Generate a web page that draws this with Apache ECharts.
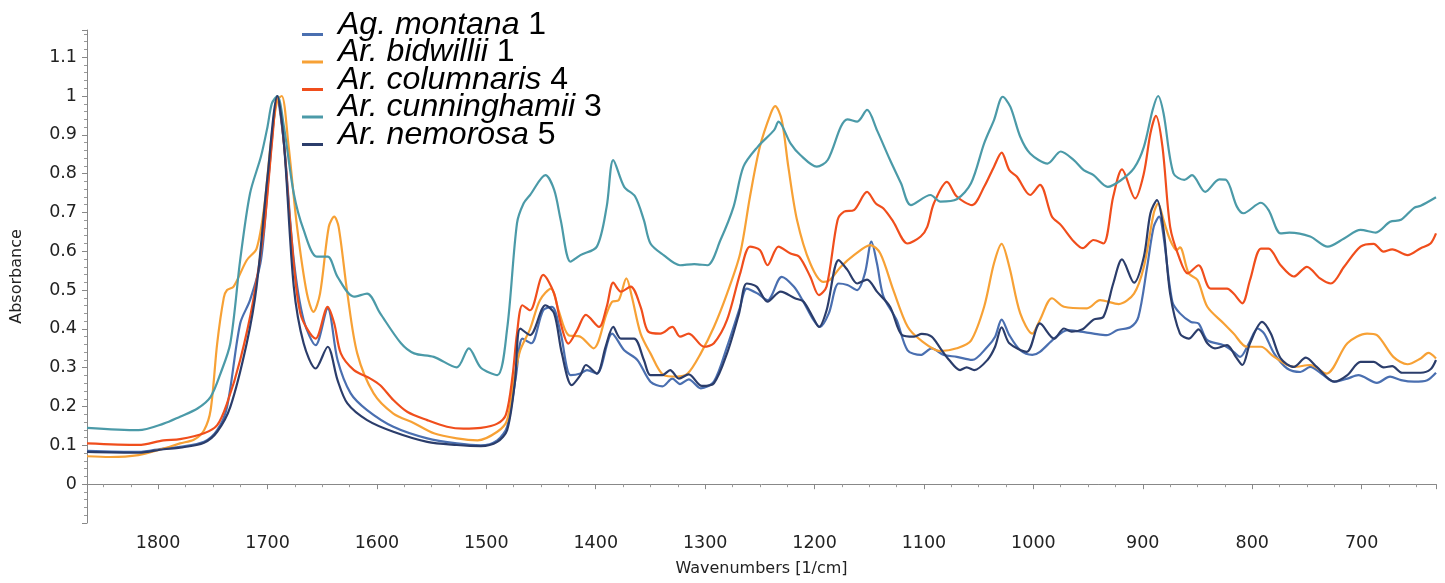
<!DOCTYPE html>
<html>
<head>
<meta charset="utf-8">
<script src="https://cdn.jsdelivr.net/npm/echarts@6.0.0/dist/echarts.min.js"></script>
<style>
  html, body { margin: 0; padding: 0; background: #fff; }
  #main { width: 1445px; height: 583px; }
</style>
</head>
<body>
<div id="main"></div>
<script>
// series names (legend order)
const seriesNames = ['Ag. montana 1', 'Ar. bidwillii 1', 'Ar. columnaris 4', 'Ar. cunninghamii 3', 'Ar. nemorosa 5'];
const seriesColors = ['#4a6fb0', '#f7a135', '#f04e1c', '#4b9aa8', '#2b3d6b'];

// [wavenumber, absorbance]
const montana = [[1865,0.086],[1818,0.083],[1795,0.092],[1780,0.096],[1758,0.109],[1746,0.139],[1737,0.199],[1725,0.414],[1716,0.474],[1706,0.577],[1699,0.792],[1691,0.990],[1685,0.878],[1676,0.577],[1667,0.423],[1656,0.358],[1645,0.453],[1636,0.320],[1624,0.234],[1609,0.191],[1585,0.148],[1554,0.118],[1527,0.105],[1505,0.100],[1490,0.113],[1481,0.148],[1473,0.277],[1467,0.375],[1459,0.363],[1448,0.448],[1440,0.457],[1432,0.388],[1423,0.281],[1414,0.285],[1408,0.294],[1399,0.285],[1385,0.388],[1374,0.345],[1362,0.320],[1350,0.264],[1339,0.252],[1330,0.272],[1323,0.258],[1315,0.270],[1304,0.247],[1292,0.264],[1280,0.354],[1268,0.457],[1262,0.504],[1252,0.491],[1243,0.474],[1230,0.534],[1219,0.509],[1211,0.474],[1201,0.423],[1195,0.405],[1187,0.440],[1178,0.517],[1170,0.513],[1161,0.500],[1154,0.543],[1148,0.625],[1143,0.569],[1137,0.483],[1125,0.423],[1115,0.345],[1103,0.333],[1093,0.350],[1082,0.333],[1070,0.328],[1056,0.320],[1042,0.354],[1035,0.380],[1029,0.424],[1022,0.384],[1012,0.345],[1001,0.333],[994,0.341],[981,0.375],[969,0.397],[957,0.393],[945,0.388],[933,0.384],[923,0.397],[911,0.405],[904,0.431],[896,0.560],[890,0.663],[885,0.689],[881,0.638],[873,0.470],[866,0.440],[856,0.418],[849,0.414],[841,0.371],[826,0.358],[817,0.341],[811,0.328],[803,0.363],[795,0.401],[789,0.388],[780,0.337],[768,0.298],[756,0.289],[747,0.302],[735,0.281],[725,0.264],[713,0.272],[703,0.281],[686,0.261],[674,0.277],[664,0.268],[652,0.264],[640,0.268],[632,0.287]];

const bidwillii = [[1865,0.072],[1844,0.070],[1818,0.075],[1795,0.092],[1780,0.105],[1767,0.115],[1758,0.139],[1752,0.191],[1746,0.363],[1740,0.480],[1737,0.500],[1731,0.509],[1719,0.577],[1710,0.607],[1703,0.715],[1697,0.878],[1691,0.990],[1687,1.0],[1681,0.878],[1673,0.663],[1664,0.491],[1658,0.444],[1652,0.491],[1644,0.663],[1639,0.689],[1635,0.663],[1627,0.491],[1618,0.337],[1603,0.234],[1585,0.182],[1566,0.157],[1548,0.131],[1527,0.118],[1508,0.113],[1490,0.135],[1481,0.165],[1475,0.268],[1469,0.345],[1460,0.400],[1451,0.474],[1441,0.504],[1434,0.448],[1425,0.384],[1414,0.380],[1402,0.350],[1390,0.440],[1385,0.470],[1379,0.474],[1372,0.530],[1367,0.483],[1359,0.388],[1350,0.337],[1338,0.281],[1326,0.277],[1316,0.285],[1304,0.337],[1292,0.405],[1280,0.491],[1268,0.594],[1259,0.741],[1250,0.869],[1240,0.955],[1236,0.974],[1230,0.938],[1224,0.818],[1216,0.680],[1204,0.569],[1192,0.521],[1186,0.526],[1176,0.560],[1164,0.590],[1149,0.616],[1140,0.595],[1128,0.500],[1115,0.406],[1103,0.371],[1085,0.343],[1070,0.350],[1057,0.370],[1045,0.457],[1036,0.569],[1029,0.619],[1022,0.560],[1012,0.440],[1001,0.388],[994,0.423],[983,0.479],[972,0.457],[951,0.453],[939,0.474],[922,0.464],[908,0.491],[899,0.560],[890,0.698],[886,0.723],[881,0.680],[875,0.629],[869,0.603],[866,0.610],[858,0.543],[850,0.526],[841,0.457],[826,0.414],[817,0.388],[805,0.354],[792,0.354],[780,0.328],[762,0.302],[747,0.307],[732,0.285],[713,0.363],[695,0.388],[686,0.384],[671,0.328],[658,0.309],[646,0.324],[639,0.338],[632,0.324]];

const columnaris = [[1865,0.105],[1818,0.101],[1795,0.113],[1780,0.116],[1758,0.131],[1746,0.152],[1737,0.208],[1725,0.320],[1713,0.474],[1703,0.663],[1696,0.878],[1691,1.0],[1685,0.878],[1679,0.663],[1670,0.440],[1656,0.375],[1645,0.457],[1639,0.414],[1633,0.337],[1621,0.294],[1606,0.272],[1597,0.255],[1585,0.217],[1572,0.186],[1554,0.165],[1536,0.148],[1521,0.143],[1505,0.145],[1490,0.156],[1482,0.180],[1476,0.280],[1472,0.388],[1467,0.461],[1460,0.448],[1448,0.539],[1438,0.491],[1432,0.414],[1425,0.362],[1417,0.397],[1409,0.436],[1397,0.405],[1390,0.457],[1384,0.519],[1377,0.496],[1368,0.509],[1359,0.457],[1352,0.393],[1341,0.388],[1330,0.405],[1323,0.380],[1315,0.388],[1301,0.354],[1292,0.363],[1280,0.423],[1268,0.543],[1259,0.612],[1250,0.603],[1243,0.564],[1233,0.612],[1222,0.594],[1214,0.586],[1204,0.535],[1196,0.487],[1189,0.509],[1179,0.680],[1173,0.702],[1164,0.706],[1152,0.753],[1144,0.723],[1137,0.710],[1128,0.676],[1115,0.620],[1103,0.638],[1097,0.663],[1091,0.723],[1079,0.779],[1070,0.741],[1056,0.719],[1045,0.766],[1036,0.818],[1029,0.854],[1022,0.809],[1015,0.792],[1003,0.745],[994,0.771],[983,0.689],[975,0.668],[963,0.625],[955,0.608],[945,0.629],[936,0.620],[927,0.741],[919,0.811],[907,0.736],[899,0.801],[893,0.904],[888,0.949],[882,0.869],[875,0.663],[867,0.586],[859,0.543],[849,0.564],[838,0.504],[823,0.504],[817,0.491],[809,0.466],[802,0.526],[792,0.607],[785,0.607],[774,0.564],[762,0.535],[750,0.560],[738,0.530],[728,0.517],[716,0.560],[701,0.612],[689,0.619],[680,0.599],[672,0.605],[658,0.590],[646,0.608],[637,0.620],[632,0.646]];

const cunninghamii = [[1865,0.145],[1818,0.139],[1795,0.156],[1780,0.174],[1764,0.195],[1752,0.225],[1743,0.285],[1734,0.363],[1725,0.577],[1716,0.749],[1706,0.844],[1700,0.921],[1696,0.981],[1691,1.0],[1685,0.921],[1676,0.749],[1667,0.655],[1655,0.586],[1645,0.586],[1636,0.534],[1621,0.483],[1609,0.491],[1597,0.440],[1578,0.363],[1566,0.337],[1548,0.328],[1527,0.301],[1516,0.350],[1505,0.300],[1490,0.281],[1481,0.400],[1472,0.672],[1466,0.723],[1460,0.745],[1446,0.796],[1438,0.758],[1432,0.680],[1423,0.573],[1414,0.590],[1399,0.612],[1390,0.715],[1384,0.835],[1374,0.766],[1364,0.741],[1356,0.680],[1350,0.620],[1338,0.590],[1323,0.564],[1310,0.567],[1298,0.564],[1286,0.629],[1274,0.715],[1265,0.818],[1252,0.869],[1237,0.912],[1233,0.934],[1222,0.878],[1213,0.848],[1198,0.818],[1188,0.835],[1176,0.921],[1170,0.940],[1161,0.934],[1152,0.964],[1143,0.912],[1131,0.835],[1121,0.775],[1112,0.719],[1094,0.745],[1085,0.728],[1070,0.734],[1057,0.775],[1045,0.878],[1036,0.938],[1028,0.998],[1021,0.972],[1012,0.895],[1003,0.852],[987,0.826],[975,0.857],[963,0.835],[954,0.809],[945,0.796],[932,0.766],[920,0.783],[908,0.814],[899,0.869],[891,0.964],[886,1.0],[881,0.955],[872,0.801],[862,0.784],[855,0.796],[843,0.753],[830,0.785],[824,0.784],[814,0.715],[808,0.698],[792,0.725],[785,0.706],[774,0.646],[766,0.648],[747,0.638],[731,0.612],[716,0.633],[701,0.655],[687,0.648],[674,0.676],[664,0.681],[652,0.712],[646,0.717],[632,0.739]];

const nemorosa = [[1865,0.083],[1818,0.081],[1795,0.090],[1780,0.094],[1758,0.107],[1746,0.135],[1734,0.199],[1719,0.363],[1710,0.509],[1700,0.792],[1691,1.0],[1685,0.878],[1676,0.509],[1667,0.363],[1656,0.298],[1645,0.354],[1636,0.268],[1627,0.208],[1609,0.165],[1585,0.135],[1554,0.109],[1527,0.101],[1505,0.098],[1490,0.109],[1481,0.139],[1474,0.260],[1469,0.401],[1460,0.384],[1446,0.461],[1438,0.440],[1431,0.337],[1422,0.255],[1414,0.281],[1409,0.307],[1399,0.285],[1391,0.354],[1384,0.405],[1377,0.375],[1365,0.375],[1356,0.320],[1350,0.281],[1339,0.281],[1332,0.294],[1324,0.272],[1315,0.283],[1303,0.253],[1292,0.260],[1280,0.337],[1269,0.440],[1262,0.517],[1253,0.509],[1243,0.470],[1231,0.496],[1218,0.479],[1210,0.470],[1201,0.427],[1196,0.405],[1189,0.448],[1178,0.577],[1170,0.552],[1161,0.517],[1152,0.527],[1143,0.496],[1131,0.457],[1120,0.384],[1109,0.380],[1102,0.387],[1093,0.380],[1085,0.350],[1077,0.320],[1067,0.294],[1061,0.301],[1054,0.294],[1042,0.320],[1035,0.354],[1029,0.404],[1022,0.363],[1006,0.341],[994,0.414],[981,0.375],[972,0.401],[965,0.393],[955,0.399],[945,0.424],[936,0.431],[927,0.517],[919,0.579],[908,0.519],[899,0.586],[893,0.698],[887,0.732],[881,0.655],[875,0.491],[866,0.388],[858,0.375],[849,0.399],[841,0.363],[834,0.350],[823,0.358],[815,0.328],[809,0.307],[802,0.363],[791,0.418],[783,0.388],[774,0.324],[762,0.302],[751,0.326],[741,0.302],[725,0.264],[713,0.281],[701,0.315],[689,0.315],[680,0.301],[672,0.304],[663,0.287],[646,0.287],[637,0.296],[632,0.320]];

const seriesData = [montana, bidwillii, columnaris, cunninghamii, nemorosa];

// axes
const xMin = 632, xMax = 1865;
const yMin = -0.1, yMax = 1.17, yStep = 0.1;

const axisFont = 'DejaVu Sans';

let option = {
    animation: false,
    grid: { left: 87, right: 9, top: 30, bottom: 60 },
    legend: {
        orient: 'vertical',
        left: 302,
        top: 9,
        padding: 0,
        itemGap: -4.5,
        itemWidth: 21,
        itemHeight: 22,
        icon: 'path://M0,0L0,0M0,19L21,19L21,22L0,22Z',
        selectedMode: false,
        data: seriesNames,
        formatter: (name) => {
            const m = name.match(/^(.*) (\d+)$/);
            return '{i|' + m[1] + '}{n| ' + m[2] + '}';
        },
        textStyle: {
            rich: {
                i: { fontFamily: 'Liberation Sans', fontStyle: 'italic', fontSize: 32, lineHeight: 27, color: '#000', padding: [0, 0, 0, 10] },
                n: { fontFamily: 'Liberation Sans', fontSize: 32, lineHeight: 27, color: '#000' }
            }
        }
    },
    xAxis: {
        type: 'value',
        inverse: true,
        min: xMin,
        max: xMax,
        splitNumber: 12,
        name: 'Wavenumbers [1/cm]',
        nameLocation: 'middle',
        nameGap: 38,
        nameTextStyle: { fontFamily: axisFont, fontSize: 16, color: '#222' },
        axisLine: { lineStyle: { color: '#888', width: 1 } },
        axisTick: { length: 5, lineStyle: { color: '#888' } },
        minorTick: { show: true, splitNumber: 4, length: 3, lineStyle: { color: '#999' } },
        axisLabel: {
            fontFamily: axisFont, fontSize: 17.5, color: '#222', margin: 11,
            showMinLabel: false, showMaxLabel: false,
            formatter: (v) => String(v)
        },
        splitLine: { show: false }
    },
    yAxis: {
        type: 'value',
        min: yMin,
        max: yMax,
        interval: yStep,
        name: 'Absorbance',
        nameLocation: 'middle',
        nameGap: 62,
        nameTextStyle: { fontFamily: axisFont, fontSize: 16, color: '#222' },
        axisLine: { show: true, lineStyle: { color: '#888', width: 1 } },
        axisTick: { show: true, length: 5, lineStyle: { color: '#888' } },
        minorTick: { show: true, splitNumber: 5, length: 3, lineStyle: { color: '#999' } },
        axisLabel: {
            fontFamily: axisFont, fontSize: 17.5, color: '#222', margin: 10, showMaxLabel: false,
            formatter: (v) => (v < -0.001 || v > 1.15) ? '' : String(Math.round(v * 10) / 10)
        },
        splitLine: { show: false }
    },
    series: seriesNames.map((name, i) => ({
        name: name,
        type: 'line',
        data: seriesData[i],
        smooth: 0.3,
        showSymbol: false,
        lineStyle: { width: 2.2, color: seriesColors[i] },
        itemStyle: { color: seriesColors[i] }
    }))
};

const chart = echarts.init(document.getElementById('main'));
chart.setOption(option);
</script>
</body>
</html>
